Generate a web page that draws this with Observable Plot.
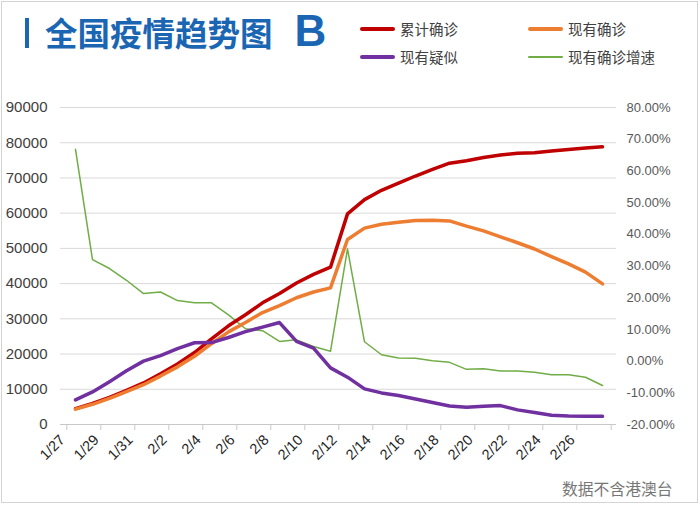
<!DOCTYPE html>
<html>
<head>
<meta charset="utf-8">
<script src="https://cdn.jsdelivr.net/npm/d3@7"></script>
<script src="https://cdn.jsdelivr.net/npm/@observablehq/plot@0.6"></script>
<style>
  body { margin: 0; background: #fff; }
  #wrap { position: relative; width: 700px; height: 505px; overflow: hidden; background: #fff; font-family: "Noto Sans CJK SC", "Noto Sans", sans-serif; }
  #frame { position: absolute; left: 1px; top: 1px; width: 695px; height: 500px; border: 1px solid #d4d4d4; }
  #bar { position: absolute; left: 25px; top: 18px; width: 4px; height: 30px; background: #1a66b3; }
  #title { position: absolute; left: 45px; top: 11px; line-height: 40px; white-space: nowrap; color: #1a66b3; font-weight: bold; }
  #title .cjk { font-size: 32.5px; letter-spacing: 0px; }
  #title .b { font-family: "Liberation Sans", Arial, sans-serif; font-size: 44px; margin-left: 22px; }
  .lg { position: absolute; height: 20px; line-height: 20px; font-size: 14.5px; color: #404040; white-space: nowrap; }
  .lg i { position: absolute; left: 0; width: 35px; top: 9px; }
  .lg span { position: absolute; left: 40px; top: -1px; }
  #caption { position: absolute; left: 562px; top: 478px; font-size: 15.8px; color: #777; white-space: nowrap; line-height: 22px; }
  #chart { position: absolute; left: 0; top: 80px; }
</style>
</head>
<body>
<div id="wrap">
  <div id="frame"></div>
  <div id="bar"></div>
  <div id="title"><span class="cjk">全国疫情趋势图</span><span class="b">B</span></div>
  <div id="legend"></div>
  <div id="chart"></div>
  <div id="caption">数据不含港澳台</div>
</div>
<script>
// ---- data ----
const dates = ["1/27","1/28","1/29","1/30","1/31","2/1","2/2","2/3","2/4","2/5","2/6","2/7","2/8","2/9","2/10","2/11","2/12","2/13","2/14","2/15","2/16","2/17","2/18","2/19","2/20","2/21","2/22","2/23","2/24","2/25","2/26","2/27"];
const cumConfirmed = [4515, 5974, 7711, 9692, 11791, 14380, 17205, 20438, 24324, 28018, 31161, 34546, 37198, 40171, 42638, 44653, 59804, 63851, 66492, 68500, 70548, 72436, 74185, 74900, 75800, 76500, 77000, 77150, 77658, 78064, 78497, 78824];
const curConfirmed = [4349, 5739, 7417, 9308, 11289, 13748, 16369, 19381, 22942, 26302, 28985, 31774, 33738, 35982, 37626, 38800, 52526, 55748, 56873, 57416, 57934, 58016, 57805, 56303, 54965, 53284, 51606, 49824, 47672, 45604, 43258, 39919];
const suspected = [6973, 9239, 12167, 15238, 17988, 19544, 21558, 23214, 23260, 24702, 26359, 27657, 28942, 23589, 21675, 16067, 13435, 10109, 8969, 8228, 7264, 6242, 5248, 4922, 5206, 5365, 4148, 3434, 2600, 2400, 2358, 2308];
const growthPct = [66.8, 32.0, 29.2, 25.5, 21.3, 21.8, 19.1, 18.4, 18.4, 14.6, 10.2, 9.6, 6.2, 6.7, 4.6, 3.1, 35.4, 6.1, 2.0, 1.0, 0.9, 0.1, -0.4, -2.6, -2.4, -3.1, -3.1, -3.5, -4.3, -4.3, -5.1, -7.7];
const leftTicks = [0, 10000, 20000, 30000, 40000, 50000, 60000, 70000, 80000, 90000];
const rightTicks = [-20, -10, 0, 10, 20, 30, 40, 50, 60, 70, 80];
const labelDates = dates.filter((d, i) => i % 2 === 0);
const seriesNames = ["累计确诊", "现有确诊", "现有疑似", "现有确诊增速"];
const seriesColors = ["#c00000", "#ed7d31", "#7030a0", "#70ad47"];
const seriesWidths = [3.5, 3.5, 3.5, 1.5];

// map the right (percent) axis onto the left scale: -20% -> 0, 80% -> 90000
const pctToLeft = p => (p + 20) / 100 * 90000;

// ---- legend ----
const legendPos = [[360, 20], [528, 20], [360, 48], [528, 48]];
const legend = document.getElementById("legend");
seriesNames.forEach((name, k) => {
  const el = document.createElement("div");
  el.className = "lg";
  el.style.left = legendPos[k][0] + "px";
  el.style.top = legendPos[k][1] + "px";
  const w = seriesWidths[k] + 0.5;
  el.innerHTML = `<i style="height:${w}px;margin-top:${-w/2}px;background:${seriesColors[k]};border-radius:2px"></i><span>${name}</span>`;
  legend.appendChild(el);
});

// ---- chart ----
const step = 556 / dates.length;
const series = [cumConfirmed, curConfirmed, suspected, growthPct.map(pctToLeft)];

const chart = Plot.plot({
  width: 700,
  height: 400,
  marginTop: 27,
  marginBottom: 56,
  marginLeft: 60,
  marginRight: 84,
  style: { fontFamily: "'Liberation Sans', Arial, sans-serif", background: "transparent", overflow: "visible" },
  x: { type: "point", domain: dates, padding: 0.5, axis: null },
  y: { domain: [0, 90000], axis: null },
  marks: [
    Plot.ruleY(leftTicks.filter(v => v > 0), { stroke: "#d9d9d9", strokeWidth: 1 }),
    Plot.ruleY([0], { stroke: "#c8c8c8", strokeWidth: 1 }),
    // tick marks between categories (every 2 days) + right edge
    Plot.axisX(labelDates, { anchor: "bottom", tickSize: 6, tickFormat: () => "", dx: -step / 2, stroke: "#c8c8c8" }),
    Plot.axisX([dates[dates.length - 1]], { anchor: "bottom", tickSize: 6, tickFormat: () => "", dx: step / 2, stroke: "#c8c8c8" }),
    // date labels
    Plot.axisX(labelDates, { anchor: "bottom", tickSize: 0, tickPadding: 13, tickRotate: -45, dx: -13, fontSize: 14.5, color: "#262626" }),
    // left axis
    Plot.axisY(leftTicks, { anchor: "left", tickSize: 0, tickPadding: 13, fontSize: 15, color: "#404040", tickFormat: d => String(d) }),
    // right axis (percent)
    Plot.axisY(rightTicks.map(pctToLeft), { anchor: "right", tickSize: 0, tickPadding: 10, fontSize: 13, color: "#595959",
      tickFormat: (v, i) => rightTicks[i].toFixed(2) + "%" }),
    // lines (green drawn first so the thick series sit above it where they cross)
    ...[3, 0, 1, 2].map(k => Plot.line(dates, {
      x: d => d,
      y: (d, i) => series[k][i],
      stroke: seriesColors[k],
      strokeWidth: seriesWidths[k],
      strokeLinejoin: "round",
      strokeLinecap: "round"
    }))
  ]
});
document.getElementById("chart").appendChild(chart);
</script>
</body>
</html>
